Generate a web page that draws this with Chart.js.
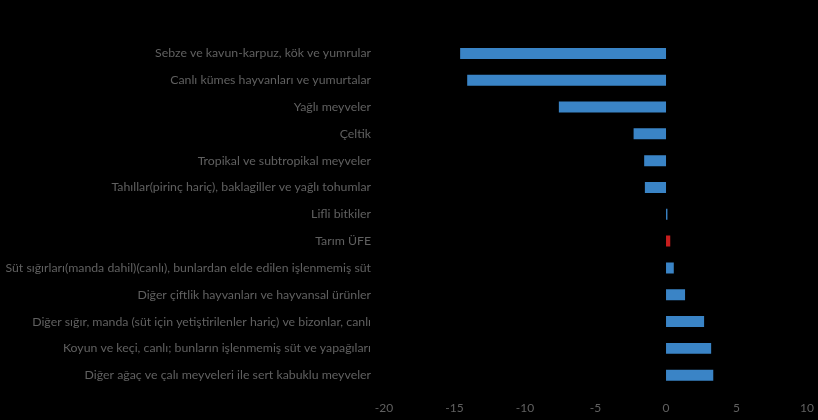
<!DOCTYPE html>
<html>
<head>
<meta charset="utf-8">
<script src="https://cdn.jsdelivr.net/npm/chart.js@4"></script>
<style>
  html, body { margin: 0; padding: 0; background: #000; }
  #wrap { width: 818px; height: 420px; position: relative; }
</style>
</head>
<body>
<div id="wrap"><canvas id="ufeChart" width="818" height="420"></canvas></div>
<script>
const categories = [
    'Sebze ve kavun-karpuz, kök ve yumrular',
    'Canlı kümes hayvanları ve yumurtalar',
    'Yağlı meyveler',
    'Çeltik',
    'Tropikal ve subtropikal meyveler',
    'Tahıllar(pirinç hariç), baklagiller ve yağlı tohumlar',
    'Lifli bitkiler',
    'Tarım ÜFE',
    'Süt sığırları(manda dahil)(canlı), bunlardan elde edilen işlenmemiş süt',
    'Diğer çiftlik hayvanları ve hayvansal ürünler',
    'Diğer sığır, manda (süt için yetiştirilenler hariç) ve bizonlar, canlı',
    'Koyun ve keçi, canlı; bunların işlenmemiş süt ve yapağıları',
    'Diğer ağaç ve çalı meyveleri ile sert kabuklu meyveler'
];
const changes = [-14.6, -14.1, -7.6, -2.3, -1.55, -1.5, 0.1, 0.3, 0.55, 1.35, 2.7, 3.2, 3.35];
const highlight = 'Tarım ÜFE';
const xTicks = [-20, -15, -10, -5, 0, 5, 10];

const barColors = categories.map(c => c === highlight ? '#c81e1e' : '#3a84c6');

const ctx = document.getElementById('ufeChart').getContext('2d');
const ufeChart = new Chart(ctx, {
    type: 'bar',
    data: {
        labels: categories,
        datasets: [{
            data: changes,
            backgroundColor: barColors,
            borderWidth: 0,
            categoryPercentage: 1,
            barPercentage: 0.41,
        }],
    },
    options: {
        indexAxis: 'y',
        responsive: false,
        animation: false,
        layout: { padding: { top: 40, right: 9, bottom: 1, left: 0 } },
        scales: {
            x: {
                min: -20,
                max: 10,
                afterBuildTicks: (scale) => {
                    scale.ticks = xTicks.map(v => ({ value: v }));
                },
                grid: { display: false },
                border: { display: false },
                ticks: {
                    color: '#606060',
                    font: { family: 'Lato', size: 12 },
                    padding: 4,
                },
            },
            y: {
                afterFit: (scale) => { scale.width = 384; },
                grid: { display: false },
                border: { display: false },
                ticks: {
                    color: '#606060',
                    font: { family: 'Lato', size: 12.3 },
                    padding: 5,
                    autoSkip: false,
                },
            },
        },
        plugins: {
            legend: { display: false },
            tooltip: { enabled: false },
        },
    },
});
</script>
</body>
</html>
